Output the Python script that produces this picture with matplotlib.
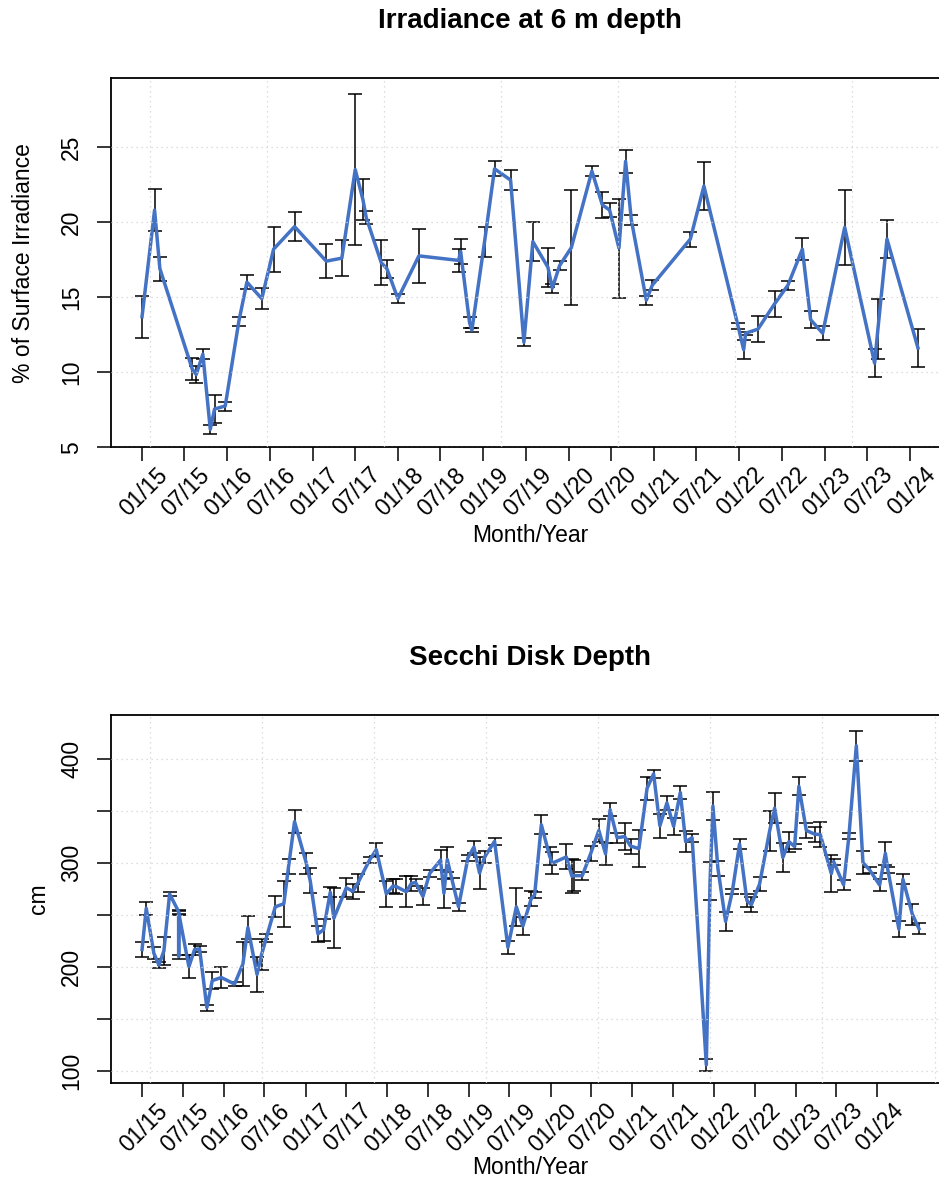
import matplotlib
matplotlib.use("Agg")
import matplotlib.pyplot as plt
from matplotlib.transforms import ScaledTranslation, blended_transform_factory

plt.rcParams['font.family'] = ['Liberation Sans', 'DejaVu Sans']

# ---------------- data ----------------
# Irradiance at 6 m: sample time (decimal year), % of surface irradiance, error
irr_time = [2015.000, 2015.147, 2015.209, 2015.589, 2015.635, 2015.713, 2015.800, 2015.850, 2015.975, 2016.135,
            2016.229, 2016.404, 2016.542, 2016.788, 2017.159, 2017.342, 2017.499, 2017.589, 2017.628, 2017.804,
            2017.870, 2017.999, 2018.245, 2018.710, 2018.734, 2018.839, 2018.866, 2019.015, 2019.132, 2019.320,
            2019.476, 2019.581, 2019.757, 2019.809, 2019.894, 2020.032, 2020.273, 2020.395, 2020.481, 2020.590,
            2020.668, 2020.735, 2020.911, 2020.981, 2021.427, 2021.586, 2021.985, 2022.052, 2022.075, 2022.219,
            2022.415, 2022.571, 2022.740, 2022.837, 2022.978, 2023.236, 2023.587, 2023.626, 2023.732, 2024.095]
irr_value = [13.7, 20.8, 16.9, 10.2, 9.85, 11.2, 6.2, 7.55, 7.75, 13.4,
             16.0, 14.9, 18.2, 19.7, 17.4, 17.6, 23.5, 21.5, 20.3, 17.3,
             16.9, 14.9, 17.75, 17.45, 18.05, 13.3, 12.8, 18.7, 23.55, 22.8,
             12.0, 18.7, 17.0, 15.6, 17.1, 18.3, 23.4, 21.15, 20.8, 18.27,
             24.05, 20.15, 14.8, 15.8, 18.87, 22.4, 13.1, 11.5, 12.6, 12.87,
             14.56, 15.8, 18.2, 13.5, 12.6, 19.65, 10.6, 12.9, 18.87, 11.62]
irr_err = [1.4, 1.4, 0.8, 0.75, 0.55, 0.35, 0.3, 0.95, 0.3, 0.3,
           0.45, 0.7, 1.5, 0.95, 1.15, 1.2, 5.05, 1.35, 0.45, 1.5,
           0.6, 0.3, 1.8, 0.75, 0.85, 0.35, 0.15, 1.0, 0.5, 0.65,
           0.25, 1.3, 1.3, 0.3, 0.3, 3.85, 0.35, 0.85, 0.45, 3.3,
           0.78, 0.35, 0.3, 0.35, 0.5, 1.58, 0.2, 0.65, 0.1, 0.88,
           0.86, 0.3, 0.72, 0.55, 0.48, 2.5, 0.92, 2.0, 1.28, 1.25]

# Secchi disk depth: sample time (decimal year), depth (cm), error
sec_time = [2015.000, 2015.051, 2015.144, 2015.206, 2015.267, 2015.337, 2015.447, 2015.448, 2015.449, 2015.573,
            2015.643, 2015.704, 2015.793, 2015.859, 2015.969, 2016.132, 2016.234, 2016.295, 2016.407, 2016.462,
            2016.520, 2016.630, 2016.735, 2016.793, 2016.866, 2017.010, 2017.058, 2017.152, 2017.221, 2017.303,
            2017.347, 2017.499, 2017.580, 2017.641, 2017.784, 2017.866, 2017.989, 2018.069, 2018.111, 2018.233,
            2018.295, 2018.347, 2018.437, 2018.519, 2018.653, 2018.694, 2018.735, 2018.804, 2018.873, 2018.987,
            2019.061, 2019.130, 2019.192, 2019.314, 2019.477, 2019.580, 2019.660, 2019.763, 2019.804, 2019.886,
            2019.987, 2020.020, 2020.192, 2020.260, 2020.285, 2020.387, 2020.489, 2020.590, 2020.672, 2020.728,
            2020.813, 2020.905, 2020.978, 2021.080, 2021.180, 2021.260, 2021.337, 2021.423, 2021.505, 2021.587,
            2021.652, 2021.731, 2021.905, 2021.951, 2021.986, 2022.047, 2022.141, 2022.223, 2022.312, 2022.402,
            2022.456, 2022.557, 2022.680, 2022.741, 2022.842, 2022.916, 2022.986, 2023.038, 2023.129, 2023.230,
            2023.300, 2023.435, 2023.463, 2023.585, 2023.650, 2023.741, 2023.822, 2023.904, 2024.026, 2024.096,
            2024.127, 2024.262, 2024.311, 2024.426, 2024.507]
sec_value = [217, 256.6, 213.4, 202, 215.5, 270.4, 253.4, 210, 252, 200.4,
             217, 217.5, 161, 187, 190, 183.7, 203, 238, 193, 212,
             228, 258, 261, 297, 340, 300, 283, 232, 236, 272,
             247, 276.3, 273, 281, 303, 313, 270.5, 278, 277.5, 272.5,
             280.5, 281.5, 268, 290, 303, 271, 303.5, 280.5, 258, 305,
             315.5, 290.5, 306, 321, 219, 258, 239.5, 266, 269.4, 337,
             307, 300, 306, 287.5, 288, 288, 309, 331.5, 309, 351.5,
             324.5, 325.6, 316.5, 314, 372, 386, 336, 358, 335.5, 368,
             320.7, 324.5, 106, 283, 355, 295, 244, 272.6, 318.5, 264,
             260, 280, 331, 353, 305.5, 320.7, 316, 374, 331.5, 328,
             327.5, 290, 301.5, 279.2, 326, 413, 300.5, 293.5, 279, 309.5,
             293.5, 236.5, 284.5, 251, 237]
sec_err = [7, 6.4, 5.6, 3.2, 13, 2, 2, 2, 2, 11,
           5, 3, 3, 8.5, 10, 2, 21, 11, 17, 15,
           4, 10, 22, 7, 11, 10, 12, 7.5, 10.7, 5,
           29, 9, 7, 9, 3, 6, 12.7, 7, 7, 14.8,
           7.3, 3, 8.5, 3, 10, 14, 12, 5, 4, 3,
           5.6, 15.7, 6, 3.7, 6.4, 18, 8.8, 7.2, 3, 9,
           9, 10.4, 12, 16.5, 15, 4, 7.2, 11.5, 10.4, 6,
           4.8, 13.2, 7.2, 17.8, 11, 4, 11.7, 7, 8, 6.7,
           10.4, 4, 6, 18, 13.6, 7.2, 8.8, 2.5, 4.8, 6.4,
           7, 6.4, 19, 14.4, 14.4, 9.6, 2, 8.8, 7.2, 7.2,
           12, 18, 3, 4.8, 3, 14.4, 11.2, 3, 5.6, 11.2,
           3, 8, 5, 10, 5.5]

tick_labels = ["01/15", "07/15", "01/16", "07/16", "01/17", "07/17", "01/18", "07/18",
               "01/19", "07/19", "01/20", "07/20", "01/21", "07/21", "01/22", "07/22",
               "01/23", "07/23", "01/24"]

# ---------------- styling ----------------
W, H = 939, 1186
BLUE = "#4472C4"
GRID = "#D3D3D3"
FS = 16.5
GRID_START, GRID_STEP = 2015.094, 1.372   # pretty() breaks of the date axis (~500 days)


def label_to_year(lab):
    m, y = lab.split("/")
    return 2000 + int(y) + (0.0 if m == "01" else 181 / 365)


tick_pos = [label_to_year(l) for l in tick_labels]

fig = plt.figure(figsize=(W / 100, H / 100), dpi=100)


def px_axes(left, top, right, bottom):
    return fig.add_axes([left / W, 1 - bottom / H, (right - left) / W, (bottom - top) / H])


def panel(ax, t, v, e, ylim, yticks, ylabels, title, ylabel, title_y, ylabel_x, xlabel_y):
    lo, hi = min(t), max(t)
    pad = 0.04 * (hi - lo)
    ax.set_xlim(lo - pad, hi + pad)
    ax.set_ylim(*ylim)

    ax.errorbar(t, v, yerr=e, fmt="none", ecolor="black", elinewidth=1.1,
                capsize=4.8, capthick=1.1, zorder=2)
    ax.plot(t, v, color=BLUE, lw=2.5, zorder=3, solid_joinstyle="round")

    # dotted grid drawn over the data
    g = GRID_START
    while g < hi + pad:
        ax.axvline(g, color=GRID, lw=0.9, ls=(0, (1, 3)), zorder=4)
        g += GRID_STEP
    for y in yticks:
        ax.axhline(y, color=GRID, lw=0.9, ls=(0, (1, 3)), zorder=4)

    for s in ax.spines.values():
        s.set_linewidth(1.3)
        s.set_color("black")

    ax.set_yticks(yticks)
    ax.set_yticklabels(ylabels, rotation=90, va="center", fontsize=FS)
    ax.tick_params(axis="y", direction="out", length=10, width=1.1, pad=10)

    ax.set_xticks(tick_pos)
    ax.set_xticklabels([])
    ax.tick_params(axis="x", direction="out", length=10, width=1.1)
    trans = blended_transform_factory(ax.transData, ax.transAxes) + \
        ScaledTranslation(0.14, -0.16, fig.dpi_scale_trans)
    for p, lab in zip(tick_pos, tick_labels):
        ax.text(p, 0, lab, transform=trans, rotation=45, ha="right", va="top",
                rotation_mode="anchor", fontsize=FS, clip_on=False)

    bb = ax.get_position()
    fig.text(530 / W, 1 - title_y / H, title, ha="center", va="center",
             fontsize=20, fontweight="bold")
    fig.text(ylabel_x / W, bb.y0 + bb.height / 2, ylabel, rotation=90,
             ha="center", va="center", fontsize=FS)
    fig.text(530 / W, 1 - xlabel_y / H, "Month/Year", ha="center", va="center", fontsize=FS)


ax1 = px_axes(111, 78, 949, 447.3)
panel(ax1, irr_time, irr_value, irr_err, (5.0, 29.6),
      [5, 10, 15, 20, 25], ["5", "10", "15", "20", "25"],
      "Irradiance at 6 m depth", "% of Surface Irradiance", 21, 24, 535)

ax2 = px_axes(111, 715, 950, 1083.3)
panel(ax2, sec_time, sec_value, sec_err, (88.2, 442.6),
      [100, 150, 200, 250, 300, 350, 400], ["100", "", "200", "", "300", "", "400"],
      "Secchi Disk Depth", "cm", 658, 38, 1168)

fig.savefig("out.png", dpi=100)
